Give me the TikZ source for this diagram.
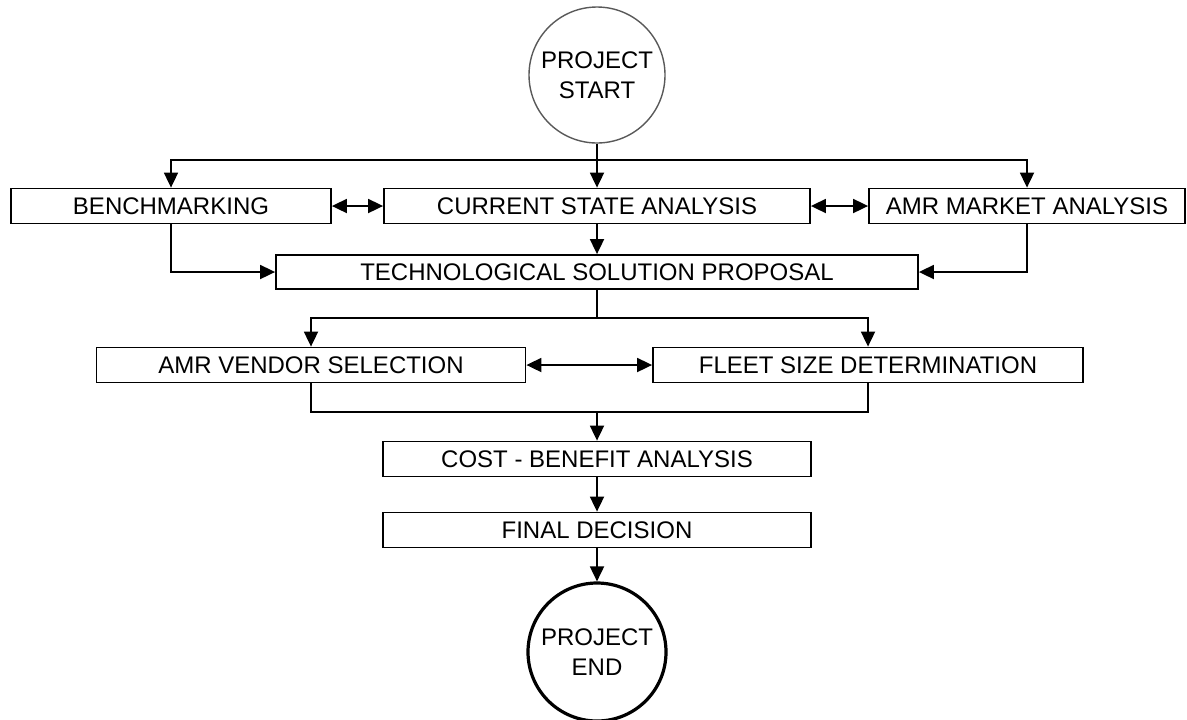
\documentclass[tikz,border=0pt]{standalone}
\usepackage{fontspec}
\setmainfont{Liberation Sans}
\usetikzlibrary{arrows.meta}

\tikzset{
	stepbox/.style = {draw, line width = 0.9pt, inner sep = 0pt, minimum height = 17.5pt, font = \fontsize{12}{15}\selectfont},
	endpoint/.style = {circle, draw, inner sep = 0pt, align = center, font = \fontsize{12}{15}\selectfont},
	arr/.style = {line width = 0.9pt, -{Triangle[length = 7.5pt, width = 7pt]}},
	darr/.style = {line width = 0.9pt, {Triangle[length = 7.5pt, width = 7pt]}-{Triangle[length = 7.5pt, width = 7pt]}}
}

\begin{document}
\begin{tikzpicture} [x = 0.5pt, y = -0.5pt]
	\useasboundingbox (0,0) rectangle (1187,719);
	\node [endpoint, minimum size = 68pt, draw = gray!70!black, line width = 0.7pt] (start) at (597,75) {PROJECT\\START};
	\node [stepbox, minimum width = 160pt] (bench) at (171,206) {BENCHMARKING};
	\node [stepbox, minimum width = 213pt] (csa) at (597,206) {CURRENT STATE ANALYSIS};
	\node [stepbox, minimum width = 158pt] (market) at (1027,206) {AMR MARKET ANALYSIS};
	\node [stepbox, minimum width = 321pt, minimum height = 17pt] (tsp) at (597,272) {TECHNOLOGICAL SOLUTION PROPOSAL};
	\node [stepbox, minimum width = 214.5pt] (vendor) at (311,365) {AMR VENDOR SELECTION};
	\node [stepbox, minimum width = 215pt] (fleet) at (868,365) {FLEET SIZE DETERMINATION};
	\node [stepbox, minimum width = 214pt] (cba) at (597,459) {COST - BENEFIT ANALYSIS};
	\node [stepbox, minimum width = 214pt] (final) at (597,530) {FINAL DECISION};
	\node [endpoint, minimum size = 69pt, line width = 1.6pt] (finish) at (597,652) {PROJECT\\END};
	\coordinate (split1) at (597,160);
	\coordinate (split2) at (597,318);
	\coordinate (join) at (597,412);
	% top level
	\draw [arr] (start) -- (csa);
	\draw [arr] (split1) -| (bench);
	\draw [arr] (split1) -| (market);
	\draw [darr] (bench) -- (csa);
	\draw [darr] (csa) -- (market);
	\draw [arr] (csa) -- (tsp);
	\draw [arr] (bench) |- (tsp);
	\draw [arr] (market) |- (tsp);
	% second level
	\draw [line width = 0.9pt] (tsp) -- (split2);
	\draw [arr] (split2) -| (vendor);
	\draw [arr] (split2) -| (fleet);
	\draw [darr] (vendor) -- (fleet);
	\draw [line width = 0.9pt] (vendor) |- (join) -| (fleet);
	\draw [arr] (join) -- (cba);
	\draw [arr] (cba) -- (final);
	\draw [arr] (final) -- (finish);
\end{tikzpicture}
\end{document}
